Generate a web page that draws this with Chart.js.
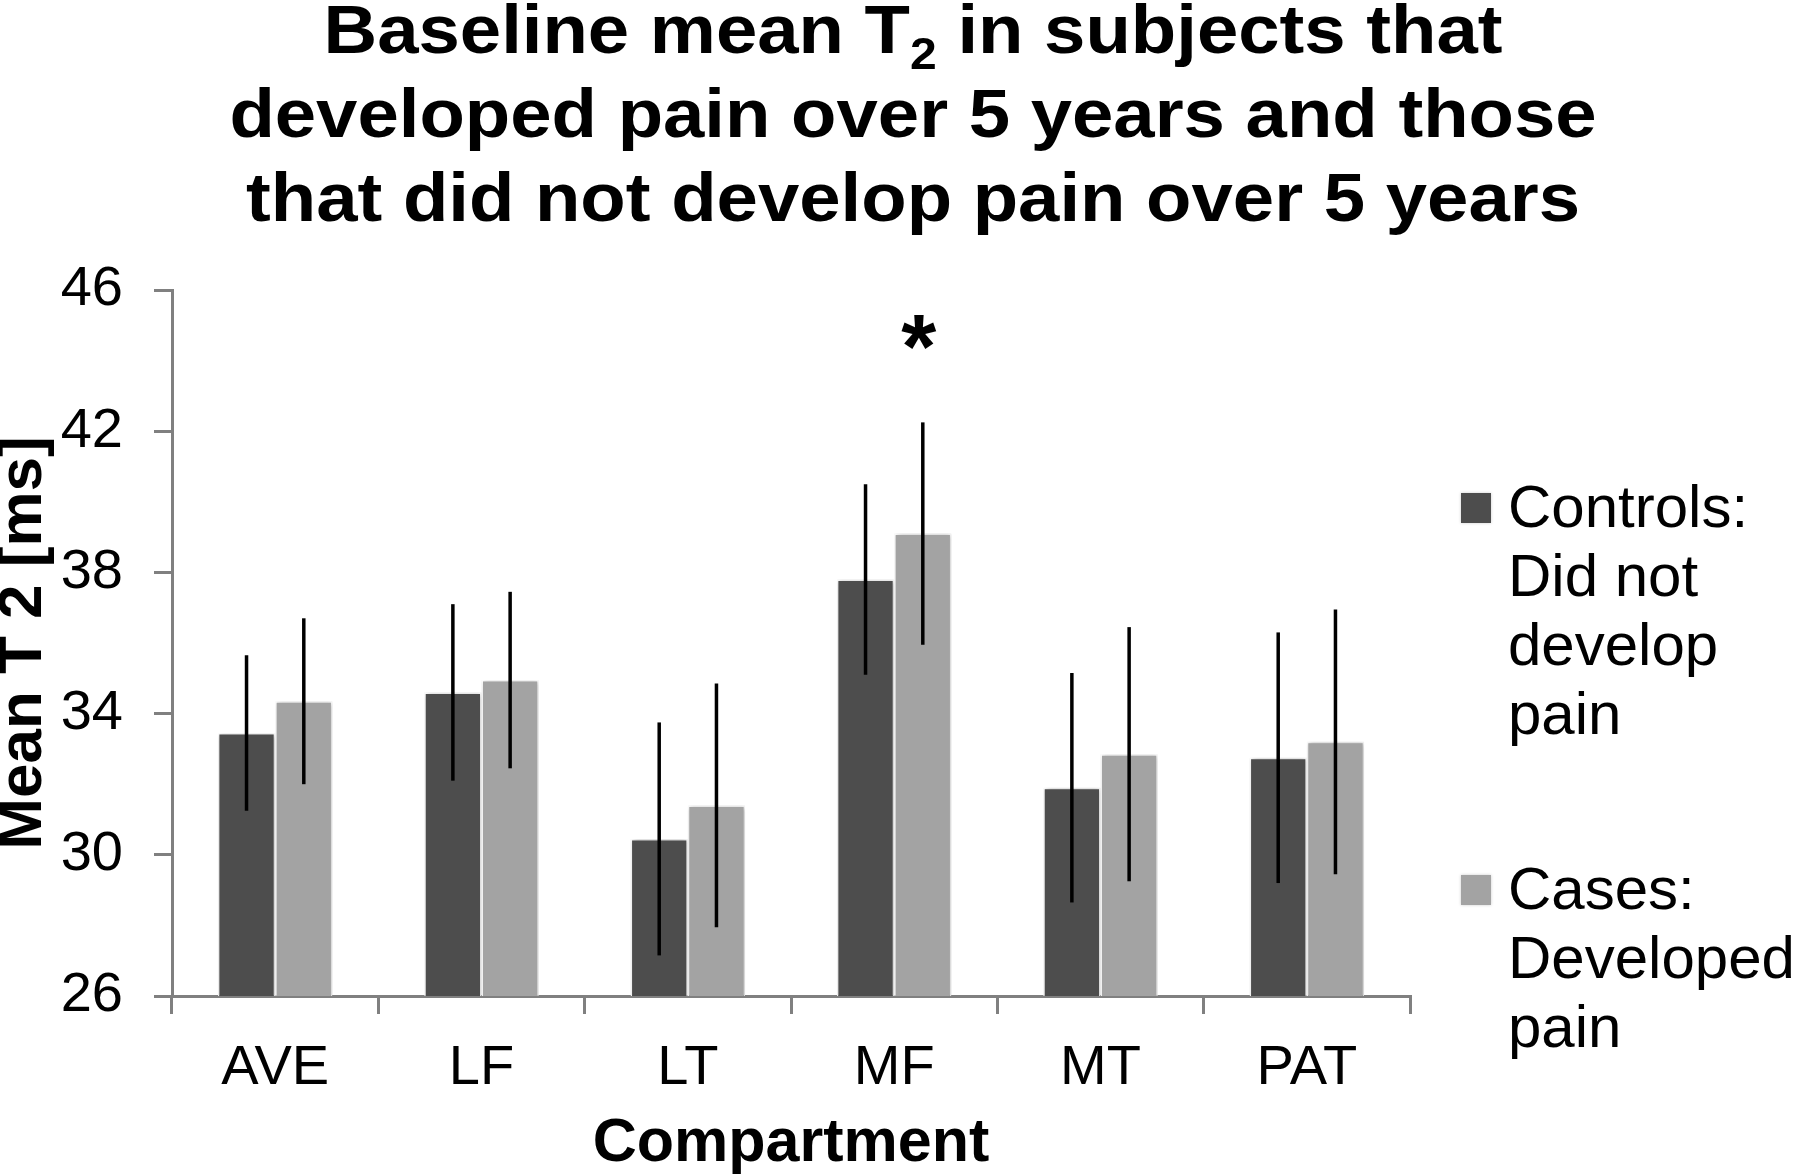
<!DOCTYPE html>
<html>
<head>
<meta charset="utf-8">
<title>Baseline mean T2</title>
<script src="https://cdn.jsdelivr.net/npm/chart.js@4.4.1/dist/chart.umd.min.js"></script>
<style>
  html, body { margin: 0; padding: 0; background: #fff; }
  #grafico { display: block; }
</style>
</head>
<body>
<canvas id="grafico" width="1800" height="1175"></canvas>
<script>
// datos
const compartimentos = ['AVE', 'LF', 'LT', 'MF', 'MT', 'PAT'];
const controles = [33.45, 34.6, 30.45, 37.8, 31.9, 32.75];
const casos = [34.35, 34.95, 31.4, 39.1, 32.85, 33.2];
const controlesDE = [2.2, 2.5, 3.3, 2.7, 3.25, 3.55];
const casosDE = [2.35, 2.5, 3.45, 3.15, 3.6, 3.75];
const significancia = ['', '', '', '*', '', ''];
const ticksY = [26, 30, 34, 38, 42, 46];

// titulo con el 2 en subindice
const tituloLineas = [
    [{ t: 'Baseline mean T' }, { t: '2', sub: true }, { t: ' in subjects that' }],
    [{ t: 'developed pain over 5 years and those' }],
    [{ t: 'that did not develop pain over 5 years' }]
];
const leyendaControles = ['Controls:', 'Did not', 'develop', 'pain'];
const leyendaCasos = ['Cases:', 'Developed', 'pain'];

const FUENTE = "'Liberation Sans', Arial, sans-serif";
const colores = ['#4d4d4d', '#a3a3a3'];
const gris = '#808080';

Chart.defaults.font.family = FUENTE;
Chart.defaults.color = '#000';

const tituloPlugin = {
    id: 'tituloT2',
    afterDraw(chart) {
        const ctx = chart.ctx;
        const fNormal = 'bold 68px ' + FUENTE;
        const fSub = 'bold 44px ' + FUENTE;
        const ensanche = 1.093; // el titulo original es algo mas ancho que Arial
        ctx.save();
        ctx.fillStyle = '#000';
        ctx.textAlign = 'left';
        ctx.textBaseline = 'alphabetic';
        tituloLineas.forEach((linea, i) => {
            let ancho = 0;
            for (let seg of linea) {
                ctx.font = seg.sub ? fSub : fNormal;
                ancho += ctx.measureText(seg.t).width;
            }
            let y = 53 + i * 84;
            ctx.save();
            ctx.translate(913 - ancho * ensanche / 2, 0);
            ctx.scale(ensanche, 1);
            let x = 0;
            for (let seg of linea) {
                ctx.font = seg.sub ? fSub : fNormal;
                ctx.fillText(seg.t, x, y + (seg.sub ? 16 : 0));
                x += ctx.measureText(seg.t).width;
            }
            ctx.restore();
        });
        ctx.restore();
    }
};

const leyendaPlugin = {
    id: 'leyendaLados',
    afterDraw(chart) {
        const ctx = chart.ctx;
        const grupos = [leyendaControles, leyendaCasos];
        const inicios = [527, 909];
        ctx.save();
        ctx.font = '60px ' + FUENTE;
        ctx.textAlign = 'left';
        ctx.textBaseline = 'alphabetic';
        grupos.forEach((lineas, i) => {
            let y0 = inicios[i];
            ctx.shadowColor = 'rgba(0,0,0,0.2)';
            ctx.shadowBlur = 3;
            ctx.fillStyle = chart.data.datasets[i].backgroundColor;
            ctx.fillRect(1461, y0 - 34, 30, 30);
            ctx.shadowColor = 'transparent';
            ctx.fillStyle = '#000';
            lineas.forEach((txt, j) => ctx.fillText(txt, 1508, y0 + j * 69));
        });
        ctx.restore();
    }
};

const barrasPlugin = {
    id: 'erroresYSombra',
    beforeDatasetsDraw(chart) {
        const ctx = chart.ctx;
        ctx.save();
        ctx.shadowColor = 'rgba(0,0,0,0.28)';
        ctx.shadowBlur = 5;
        ctx.shadowOffsetX = 1;
    },
    afterDatasetsDraw(chart) {
        const ctx = chart.ctx;
        ctx.restore();
        const escalaY = chart.scales.y;
        const errores = [controlesDE, casosDE];
        ctx.save();
        ctx.strokeStyle = '#000';
        ctx.lineWidth = 3.5;
        ctx.lineCap = 'butt';
        chart.data.datasets.forEach((ds, i) => {
            const meta = chart.getDatasetMeta(i);
            meta.data.forEach((barra, k) => {
                const v = ds.data[k];
                const de = errores[i][k];
                ctx.beginPath();
                ctx.moveTo(barra.x, escalaY.getPixelForValue(v + de));
                ctx.lineTo(barra.x, escalaY.getPixelForValue(v - de));
                ctx.stroke();
            });
        });
        // asterisco de significancia sobre la barra de casos
        ctx.fillStyle = '#000';
        ctx.font = 'bold 90px ' + FUENTE;
        ctx.textAlign = 'center';
        ctx.textBaseline = 'alphabetic';
        const metaCasos = chart.getDatasetMeta(1);
        significancia.forEach((s, k) => {
            if (!s) return;
            const m = ctx.measureText(s);
            const yc = escalaY.getPixelForValue(44.8);
            const base = yc + (m.actualBoundingBoxAscent - m.actualBoundingBoxDescent) / 2;
            ctx.fillText(s, metaCasos.data[k].x - 4, base);
        });
        ctx.restore();
    }
};

const ctx = document.getElementById('grafico').getContext('2d');

new Chart(ctx, {
    type: 'bar',
    data: {
        labels: compartimentos,
        datasets: [{
            label: 'Controls: Did not develop pain',
            data: controles,
            backgroundColor: colores[0],
            borderColor: '#ffffff',
            borderWidth: 1.5
        }, {
            label: 'Cases: Developed pain',
            data: casos,
            backgroundColor: colores[1],
            borderColor: '#ffffff',
            borderWidth: 1.5
        }]
    },
    options: {
        responsive: false,
        animation: false,
        devicePixelRatio: 1,
        layout: { padding: { top: 290, right: 390, bottom: 0, left: 0 } },
        datasets: { bar: { categoryPercentage: 0.555, barPercentage: 1 } },
        plugins: {
            legend: { display: false },
            title: { display: false },
            tooltip: { enabled: false }
        },
        scales: {
            x: {
                grid: { offset: true, drawOnChartArea: false, tickLength: 18, color: gris, lineWidth: 3 },
                border: { color: gris, width: 3 },
                ticks: { font: { size: 56 }, color: '#000', padding: 21 },
                title: { display: true, text: 'Compartment', color: '#000', padding: 0,
                         font: { size: 61, weight: 'bold', lineHeight: 1.0 } },
                afterFit(escala) { escala.height = 179; }
            },
            y: {
                min: 26,
                max: 46,
                afterBuildTicks(escala) { escala.ticks = ticksY.map(v => ({ value: v })); },
                grid: { drawOnChartArea: false, tickLength: 18, color: gris, lineWidth: 3 },
                border: { color: gris, width: 3 },
                ticks: { font: { size: 56 }, color: '#000', padding: 31 },
                title: { display: true, text: 'Mean T 2 [ms]', color: '#000', padding: 0,
                         font: { size: 62, weight: 'bold', lineHeight: 0.76 } },
                afterFit(escala) { escala.width = 172; }
            }
        }
    },
    plugins: [barrasPlugin, tituloPlugin, leyendaPlugin]
});
</script>
</body>
</html>
